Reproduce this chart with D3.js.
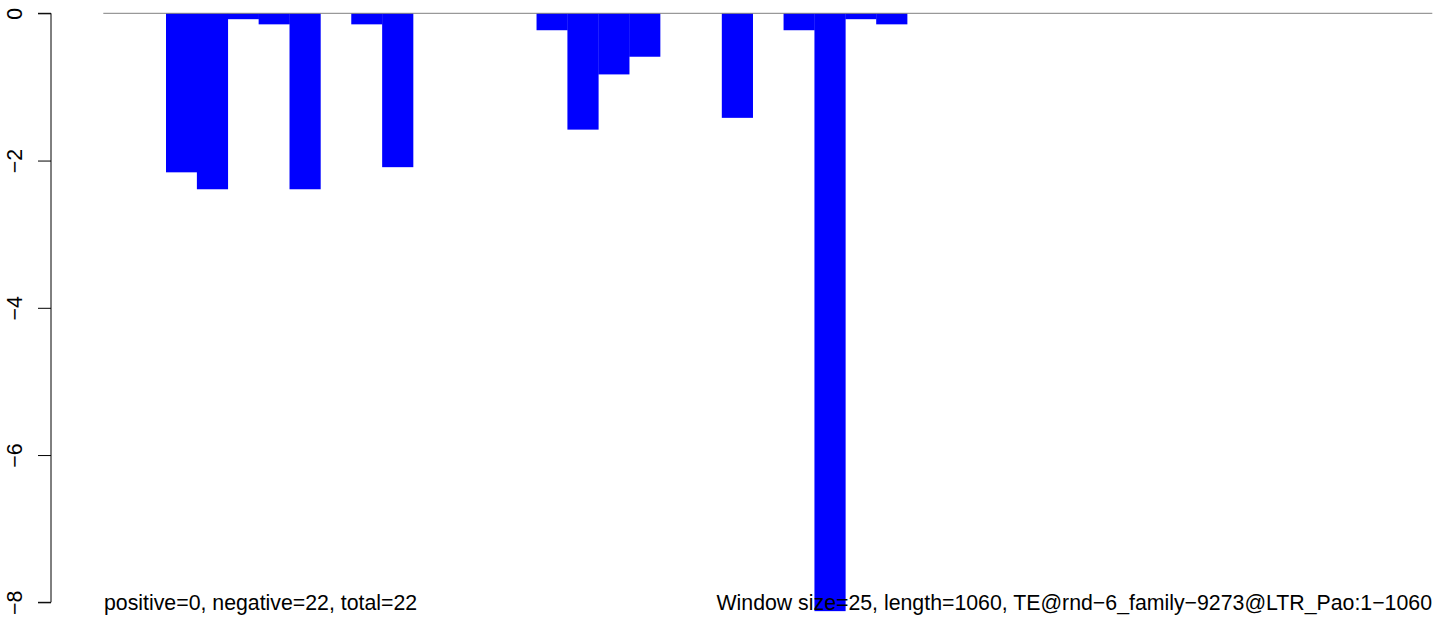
<!DOCTYPE html>
<html><head><meta charset="utf-8">
<script src="https://cdn.jsdelivr.net/npm/d3@7"></script>
<style>body{margin:0;background:#fff}svg{display:block}text{font-family:"Liberation Sans",Arial,sans-serif}</style>
</head><body>
<script>
// window index (0..42) and value of each non-empty window
const windows = [2, 3, 4, 5, 6, 8, 9, 14, 15, 16, 17, 20, 22, 23, 24, 25];
const values  = [-2.16, -2.39, -0.08, -0.15, -2.39, -0.15, -2.09, -0.23, -1.58, -0.83, -0.59, -1.42, -0.23, -8.12, -0.08, -0.15];
const nWindows = 43;
const yTicks = [0, -2, -4, -6, -8];
const leftNote = "positive=0, negative=22, total=22";
const rightNote = "Window size=25, length=1060, TE@rnd\u22126_family\u22129273@LTR_Pao:1\u22121060";

const W = 1444, H = 622;
const svg = d3.select("body").append("svg").attr("width", W).attr("height", H);

const x = d3.scaleBand().domain(d3.range(nWindows)).range([104.25, 1432]).padding(0);
const y = d3.scaleLinear().domain([0, -8]).range([13.3, 602.3]);

// bars
svg.append("g").selectAll("rect").data(windows).join("rect")
  .attr("x", d => x(d))
  .attr("width", x.bandwidth() + 0.3)
  .attr("y", y(0))
  .attr("height", (d, i) => y(values[i]) - y(0))
  .attr("fill", "#0000ff");

// zero line
svg.append("line")
  .attr("x1", 103.3).attr("x2", 1432.3)
  .attr("y1", y(0)).attr("y2", y(0))
  .attr("stroke", "#808080").attr("stroke-width", 1);

// y axis
const axis = d3.axisLeft(y).tickValues(yTicks).tickSize(13)
  .tickFormat(d => d === 0 ? "0" : "\u2212" + Math.abs(d));
const ag = svg.append("g").attr("transform", "translate(51,0)").call(axis);
ag.select(".domain").attr("d", `M-13,${y(0)}H0V${y(-8)}H-13`).attr("stroke", "#000").attr("fill", "none");
ag.selectAll(".tick line").attr("stroke", "#000");
ag.selectAll(".tick text")
  .attr("x", null).attr("dy", null)
  .attr("transform", "translate(-29,0) rotate(-90)")
  .attr("text-anchor", "middle")
  .attr("font-size", 21.3)
  .attr("fill", "#000");

// notes
svg.append("text").attr("x", 104).attr("y", 610).attr("font-size", 21.3).attr("fill", "#000").text(leftNote);
svg.append("text").attr("x", 1432).attr("y", 610).attr("text-anchor", "end").attr("font-size", 21.3).attr("fill", "#000").text(rightNote);
</script>
</body></html>
